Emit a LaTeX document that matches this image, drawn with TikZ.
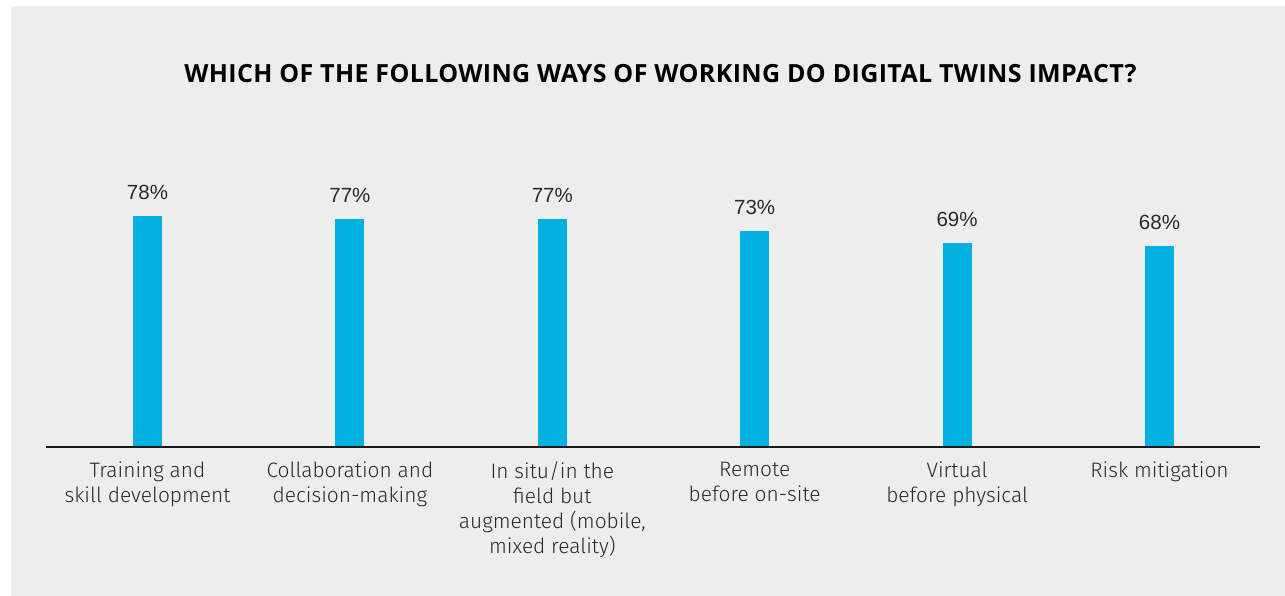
\documentclass[tikz,border=0pt]{standalone}
\usepackage{fontspec}
\setmainfont{Liberation Sans}
\newfontfamily\titlefont[LetterSpace=1.5]{Open Sans}
\newfontfamily\labfont{Fira Sans Light}
\definecolor{panel}{HTML}{EDEDED}
\definecolor{barc}{HTML}{00B0E0}
\definecolor{txt}{HTML}{2A2A2A}
\begin{document}
\begin{tikzpicture}[x=1pt,y=-1pt,
  bar/.style={fill=barc,draw=none},
  pct/.style={anchor=base,text=txt,font=\fontsize{20.5}{24}\selectfont,inner sep=0pt},
  cat/.style={anchor=base,text=txt,align=center,inner sep=0pt,font=\labfont\fontsize{20.9}{25}\selectfont},
  axis/.style={draw=black!90,line width=1.8pt}]
\useasboundingbox (0,0) rectangle (1285,596);
\fill[white] (0,0) rectangle (1285,596);
\fill[panel] (11,6) rectangle (1285,596);
\node[anchor=base,inner sep=0pt,font=\titlefont\bfseries\fontsize{25}{29}\selectfont] (title) at (660.5,82.3) {WHICH OF THE FOLLOWING WAYS OF WORKING DO DIGITAL TWINS IMPACT?};
\foreach \i/\c/\v/\lab in {1/147.5/78/{Training and\\skill development},
  2/349.9/77/{Collaboration and\\decision-making},
  3/552.3/77/{In situ/in the\\field but\\augmented (mobile,\\mixed reality)},
  4/754.7/73/{Remote\\before on-site},
  5/957.1/69/{Virtual\\before physical},
  6/1159.5/68/{Risk mitigation}}{
  \pgfmathsetmacro{\top}{447-2.962*\v}
  \fill[bar] (\c-14.5,\top) rectangle (\c+14.5,447) coordinate (b\i);
  \node[pct] (p\i) at (\c,\top-16) {\v\%};
  \node[cat,anchor=north] (c\i) at (\c,462) {\lab};
}
\coordinate (axl) at (46,447);
\coordinate (axr) at (1260,447);
\draw[axis] (axl) -- (axr);
\end{tikzpicture}
\end{document}
